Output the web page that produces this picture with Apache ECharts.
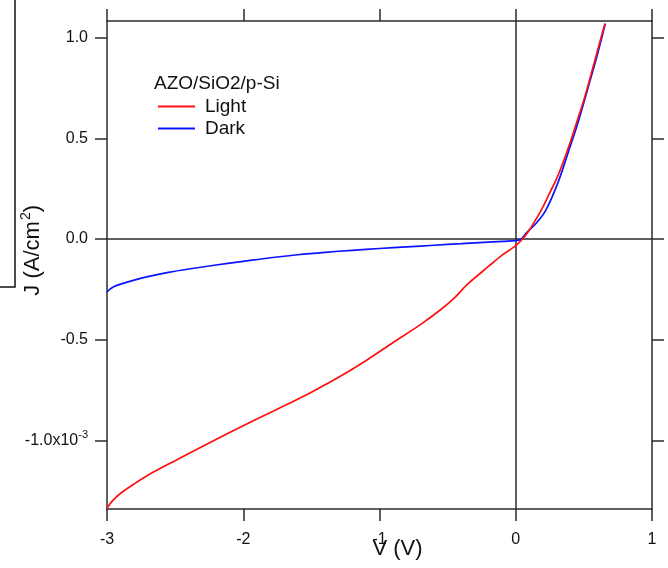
<!DOCTYPE html>
<html>
<head>
<meta charset="utf-8">
<script src="https://cdn.jsdelivr.net/npm/echarts@6/dist/echarts.min.js"></script>
<style>
    html, body { margin: 0; padding: 0; background: #fff; }
    #chart { width: 668px; height: 568px; }
</style>
</head>
<body>
<div id="chart"></div>
<script>
    // J in units of 1e-3 A/cm^2
    var voltsLight = [-3.0, -2.96, -2.9, -2.8, -2.7, -2.5, -2.3, -2.1, -1.9, -1.7, -1.5, -1.3, -1.1, -0.9, -0.7, -0.55, -0.45, -0.35, -0.2, -0.1, 0.0, 0.05, 0.1, 0.15, 0.2, 0.25, 0.3, 0.35, 0.4, 0.45, 0.5, 0.55, 0.6, 0.655];
    var jLight     = [-1.336, -1.3, -1.262, -1.215, -1.172, -1.1, -1.03, -0.96, -0.893, -0.828, -0.76, -0.686, -0.604, -0.514, -0.425, -0.35, -0.292, -0.222, -0.136, -0.08, -0.033, 0.0, 0.045, 0.1, 0.16, 0.23, 0.3, 0.385, 0.48, 0.585, 0.69, 0.81, 0.935, 1.07];

    var voltsDark = [-3.0, -2.98, -2.95, -2.9, -2.8, -2.7, -2.55, -2.4, -2.2, -2.0, -1.8, -1.6, -1.4, -1.2, -1.0, -0.8, -0.6, -0.4, -0.2, 0.0, 0.04, 0.075, 0.15, 0.22, 0.31, 0.385, 0.46, 0.53, 0.595, 0.657];
    var jDark     = [-0.262, -0.25, -0.237, -0.224, -0.204, -0.187, -0.166, -0.149, -0.129, -0.111, -0.093, -0.078, -0.066, -0.056, -0.047, -0.039, -0.031, -0.023, -0.015, -0.008, 0.0, 0.028, 0.078, 0.142, 0.28, 0.43, 0.585, 0.75, 0.905, 1.068];

    var xTicks = [-3, -2, -1, 0, 1];
    var yTicks = [-1.0, -0.5, 0.0, 0.5, 1.0];

    function zip(xs, ys) {
        var out = [];
        for (var i = 0; i < xs.length; i++) {
            out.push([xs[i], ys[i]]);
        }
        return out;
    }

    var font = 'Liberation Sans, Arial, Helvetica, sans-serif';
    var axisColor = '#2b2b2b';

    var chart = echarts.init(document.getElementById('chart'));
    chart.setOption({
        animation: false,
        textStyle: { fontFamily: font },
        title: {
            text: 'AZO/SiO2/p-Si',
            left: 154,
            top: 74,
            padding: 0,
            textStyle: { fontFamily: font, fontSize: 19, fontWeight: 'normal', color: '#111' }
        },
        legend: {
            data: ['Light', 'Dark'],
            orient: 'vertical',
            left: 158,
            top: 97,
            padding: 0,
            itemGap: 3,
            itemWidth: 37,
            itemHeight: 2,
            icon: 'rect',
            textStyle: { fontFamily: font, fontSize: 19, color: '#111', padding: [0, 0, 0, 5] }
        },
        grid: {
            left: 107,
            right: 16,
            top: 21,
            bottom: 59,
            containLabel: false,
            outerBoundsMode: 'none'
        },
        xAxis: [
            {
                type: 'value',
                position: 'bottom',
                min: -3,
                max: 1,
                interval: 1,
                name: 'V (V)',
                nameLocation: 'middle',
                nameGap: 29,
                nameMoveOverlap: false,
                nameTextStyle: { fontFamily: font, fontSize: 22, color: '#111', padding: [0, 0, 0, 36] },
                axisLine: { show: true, onZero: false, lineStyle: { color: axisColor, width: 1.5 } },
                axisTick: { show: true, inside: false, length: 12, customValues: xTicks, lineStyle: { color: axisColor, width: 1.5 } },
                axisLabel: { margin: 23, fontSize: 16, color: '#111', fontFamily: font, customValues: xTicks },
                splitLine: { show: false }
            },
            {
                type: 'value',
                position: 'top',
                min: -3,
                max: 1,
                interval: 1,
                axisLine: { show: true, onZero: false, lineStyle: { color: axisColor, width: 1.5 } },
                axisTick: { show: true, inside: false, length: 12, lineStyle: { color: axisColor, width: 1.5 } },
                axisLabel: { show: false },
                splitLine: { show: false }
            }
        ],
        yAxis: [
            {
                type: 'value',
                position: 'left',
                min: -1.34,
                max: 1.082,
                axisLine: { show: true, onZero: false, lineStyle: { color: axisColor, width: 1.5 } },
                axisTick: { show: true, inside: false, length: 12, customValues: yTicks, lineStyle: { color: axisColor, width: 1.5 } },
                axisLabel: {
                    margin: 19,
                    fontSize: 16,
                    color: '#111',
                    fontFamily: font,
                    customValues: yTicks,
                    formatter: function (v) {
                        if (Math.abs(v + 1) < 1e-9) {
                            return '-1.0x10{sup|-3}';
                        }
                        return v.toFixed(1);
                    },
                    rich: {
                        sup: { fontSize: 11, fontFamily: font, color: '#111', verticalAlign: 'bottom', padding: [0, 0, 11, 0] }
                    }
                },
                splitLine: { show: false }
            },
            {
                type: 'value',
                position: 'right',
                min: -1.34,
                max: 1.082,
                axisLine: { show: true, onZero: false, lineStyle: { color: axisColor, width: 1.5 } },
                axisTick: { show: true, inside: false, length: 12, customValues: yTicks, lineStyle: { color: axisColor, width: 1.5 } },
                axisLabel: { show: false, customValues: yTicks },
                splitLine: { show: false }
            }
        ],
        graphic: [
            {
                type: 'text',
                left: 19,
                top: 205,
                style: {
                    text: 'J (A/cm{sup|2})',
                    fontSize: 22,
                    fontFamily: font,
                    fill: '#111',
                    rich: {
                        sup: { fontSize: 14, fontFamily: font, fill: '#111', padding: [0, 0, 14, 1] }
                    }
                },
                rotation: Math.PI / 2,
                originX: 0,
                originY: 0
            },
            {
                type: 'polyline',
                shape: { points: [[15, 0], [15, 287], [0, 287]] },
                style: { stroke: '#111', lineWidth: 1.5, fill: null }
            }
        ],
        series: [
            {
                name: 'Dark',
                type: 'line',
                xAxisIndex: 0,
                yAxisIndex: 0,
                data: zip(voltsDark, jDark),
                showSymbol: false,
                smooth: 0.3,
                color: '#0a14ff',
                lineStyle: { color: '#0a14ff', width: 1.7 },
                z: 3
            },
            {
                name: 'Light',
                type: 'line',
                xAxisIndex: 0,
                yAxisIndex: 0,
                data: zip(voltsLight, jLight),
                showSymbol: false,
                smooth: 0.3,
                color: '#ff1010',
                lineStyle: { color: '#ff1010', width: 1.7 },
                z: 4,
                markLine: {
                    silent: true,
                    symbol: ['none', 'none'],
                    label: { show: false },
                    lineStyle: { color: axisColor, width: 1.5, type: 'solid' },
                    emphasis: { disabled: true },
                    data: [{ xAxis: 0 }, { yAxis: 0 }],
                    z: 1
                }
            }
        ]
    });
</script>
</body>
</html>
